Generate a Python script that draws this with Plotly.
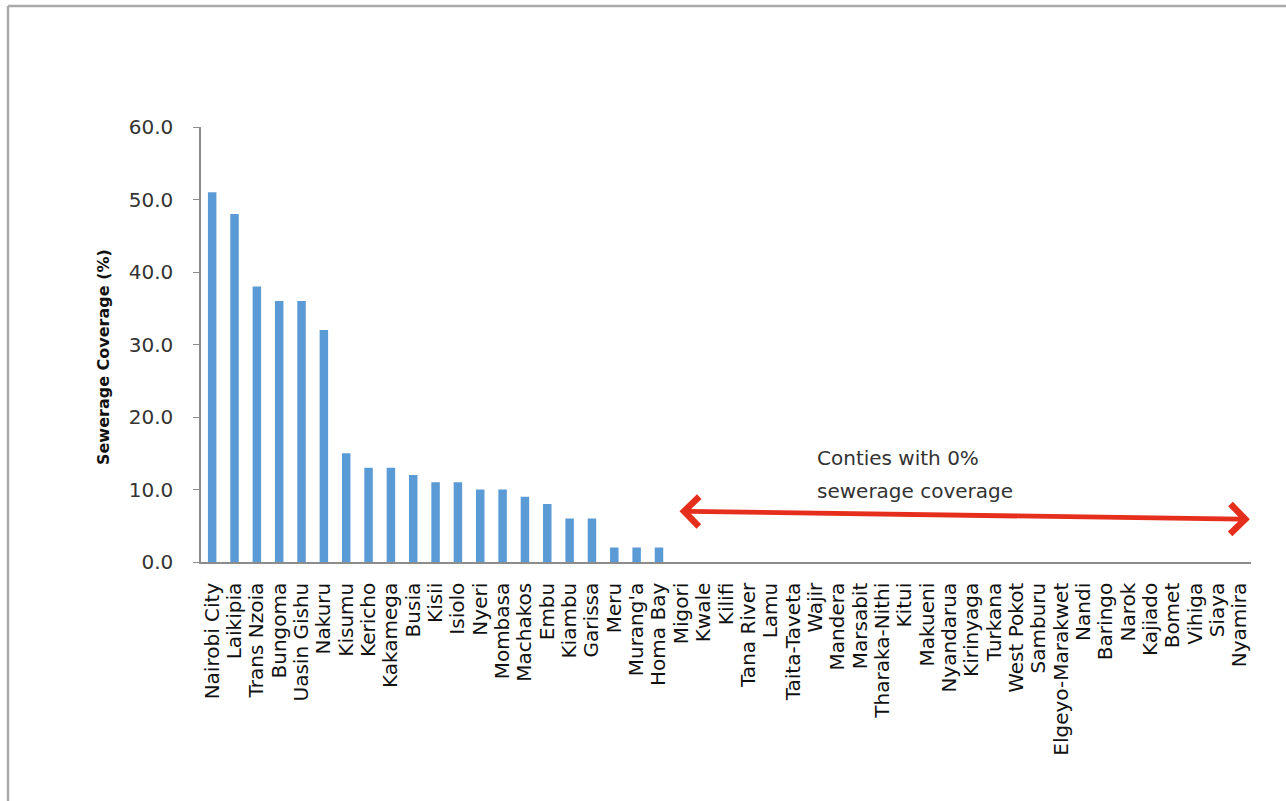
import plotly.graph_objects as go

# Sewerage coverage by county (%)
counties = [
    "Nairobi City", "Laikipia", "Trans Nzoia", "Bungoma", "Uasin Gishu", "Nakuru",
    "Kisumu", "Kericho", "Kakamega", "Busia", "Kisii", "Isiolo", "Nyeri", "Mombasa",
    "Machakos", "Embu", "Kiambu", "Garissa", "Meru", "Murang'a", "Homa Bay",
    "Migori", "Kwale", "Kilifi", "Tana River", "Lamu", "Taita-Taveta", "Wajir",
    "Mandera", "Marsabit", "Tharaka-Nithi", "Kitui", "Makueni", "Nyandarua",
    "Kirinyaga", "Turkana", "West Pokot", "Samburu", "Elgeyo-Marakwet", "Nandi",
    "Baringo", "Narok", "Kajiado", "Bomet", "Vihiga", "Siaya", "Nyamira",
]
coverage = [
    51, 48, 38, 36, 36, 32, 15, 13, 13, 12, 11, 11, 10, 10, 9, 8, 6, 6, 2, 2, 2,
    0, 0, 0, 0, 0, 0, 0, 0, 0, 0, 0, 0, 0, 0, 0, 0, 0, 0, 0, 0, 0, 0, 0, 0, 0, 0,
]
y_ticks = [0, 10, 20, 30, 40, 50, 60]
y_title = "Sewerage Coverage (%)"
note_lines = ["Conties with 0%", "sewerage coverage"]

W, H = 1286, 801
M_L, M_R, M_T, M_B = 201, 35, 127, 239
PW, PH = W - M_L - M_R, H - M_T - M_B

FONT = "DejaVu Sans"
AXIS_GRAY = "#8c8c8c"
TEXT = "#333333"

fig = go.Figure(
    go.Bar(
        x=counties,
        y=coverage,
        marker=dict(color="#5b9bd5", line=dict(width=0)),
        width=0.38,
    )
)

# zero-coverage span marked with a double-headed arrow
first_zero = next(i for i, v in enumerate(coverage) if v == 0)
arrow_left = first_zero - 0.15
arrow_right = len(counties) - 0.55

fig.add_annotation(
    x=arrow_right, y=5.9, ax=arrow_left, ay=7.0,
    xref="x", yref="y", axref="x", ayref="y",
    text="", showarrow=True, arrowside="end+start",
    arrowhead=4, startarrowhead=4, arrowsize=1.2, startarrowsize=1.2,
    arrowwidth=4.8, arrowcolor="#e62e1c",
)
for k, line in enumerate(note_lines):
    fig.add_annotation(
        x=first_zero + 6.0, y=14.3 - 4.5 * k, xref="x", yref="y",
        text=line, showarrow=False, xanchor="left", yanchor="middle",
        font=dict(family=FONT, size=20, color=TEXT),
    )

# vertical axis title
fig.add_annotation(
    x=(103 - M_L) / PW, y=(H - M_B - 357) / PH, xref="paper", yref="paper",
    text=f"<b>{y_title}</b>", textangle=-90, showarrow=False,
    xanchor="center", yanchor="middle",
    font=dict(family=FONT, size=16, color="#111111"),
)

# thin frame along the top and left edges of the image
fx0 = (8 - M_L) / PW
fy1 = 1 + (M_T - 6) / PH
fy0 = -(M_B + 5) / PH
fx1 = 1 + (M_R + 5) / PW
frame = dict(type="line", xref="paper", yref="paper",
             line=dict(color="#aaaaaa", width=2.5), layer="above")
fig.add_shape(x0=fx0, x1=fx0, y0=fy0, y1=fy1, **frame)
fig.add_shape(x0=fx0, x1=fx1, y0=fy1, y1=fy1, **frame)

fig.update_layout(
    width=W, height=H,
    margin=dict(l=M_L, r=M_R, t=M_T, b=M_B, autoexpand=False),
    paper_bgcolor="white", plot_bgcolor="white",
    showlegend=False,
    font=dict(family=FONT, size=20, color=TEXT),
    xaxis=dict(
        type="category",
        range=[-0.5, len(counties) - 0.5],
        tickmode="array", tickvals=counties, ticktext=counties,
        showline=True, linecolor=AXIS_GRAY, linewidth=1.5,
        ticks="", tickangle=-90, ticklabelstandoff=11,
        tickfont=dict(family=FONT, size=20, color="#111111"),
        showgrid=False, zeroline=False, automargin=False,
    ),
    yaxis=dict(
        range=[0, 60],
        tickvals=y_ticks, tickformat=".1f",
        showline=True, linecolor=AXIS_GRAY, linewidth=1.5,
        ticks="outside", ticklen=6, tickcolor=AXIS_GRAY, ticklabelstandoff=16,
        tickfont=dict(family=FONT, size=20, color=TEXT),
        showgrid=False, zeroline=False, automargin=False,
    ),
)

fig.write_html("out.html")
